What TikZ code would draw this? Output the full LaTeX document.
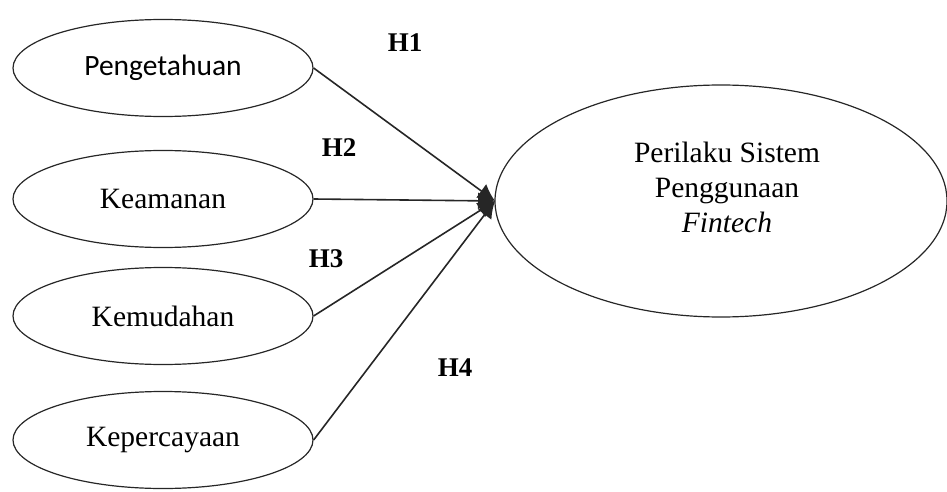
\documentclass[tikz,border=0pt]{standalone}
\usepackage{fontspec}
\setmainfont{Liberation Serif}
\newfontfamily\carlito{Carlito}
\usetikzlibrary{shapes.geometric,arrows.meta}
\tikzset{
  var/.style={draw=black!85, line width=1.2pt, ellipse, inner sep=0pt,
    minimum width=300pt, minimum height=97pt,
    font=\fontsize{29.5}{34}\selectfont},
  big/.style={draw=black!85, line width=1.2pt, ellipse, inner sep=0pt,
    minimum width=452pt, minimum height=232pt},
  hyp/.style={font=\fontsize{27}{30}\selectfont\bfseries, inner sep=0pt},
  conn/.style={line width=1.6pt, draw=black!85, -{Latex[length=17pt,width=17pt]}}
}
\begin{document}
\begin{tikzpicture}[x=1pt,y=-1pt]
\useasboundingbox (0,0) rectangle (947,492);
\node[var] (e1) at (163,68) {\carlito Pengetahuan};
\node[var] (e2) at (163,199) {Keamanan};
\node[var] (e3) at (163,316) {Kemudahan};
\node[var] (e4) at (163,440) {Kepercayaan};
\node[big] (y) at (721,201) {};
\node[align=center, font=\fontsize{29.5}{35}\selectfont, inner sep=0pt] (yt) at (727,187)
  {Perilaku Sistem\\Penggunaan\\\textit{Fintech}};
\coordinate (tip) at (495,201);
\draw[conn] (e1.east) -- (tip);
\draw[conn] (e2.east) -- (tip);
\draw[conn] (e3.east) -- (tip);
\draw[conn] (e4.east) -- (tip);
\node[hyp] (h1) at (405,43) {H1};
\node[hyp] (h2) at (339,148) {H2};
\node[hyp] (h3) at (326,259) {H3};
\node[hyp] (h4) at (455,368) {H4};
\end{tikzpicture}
\end{document}
